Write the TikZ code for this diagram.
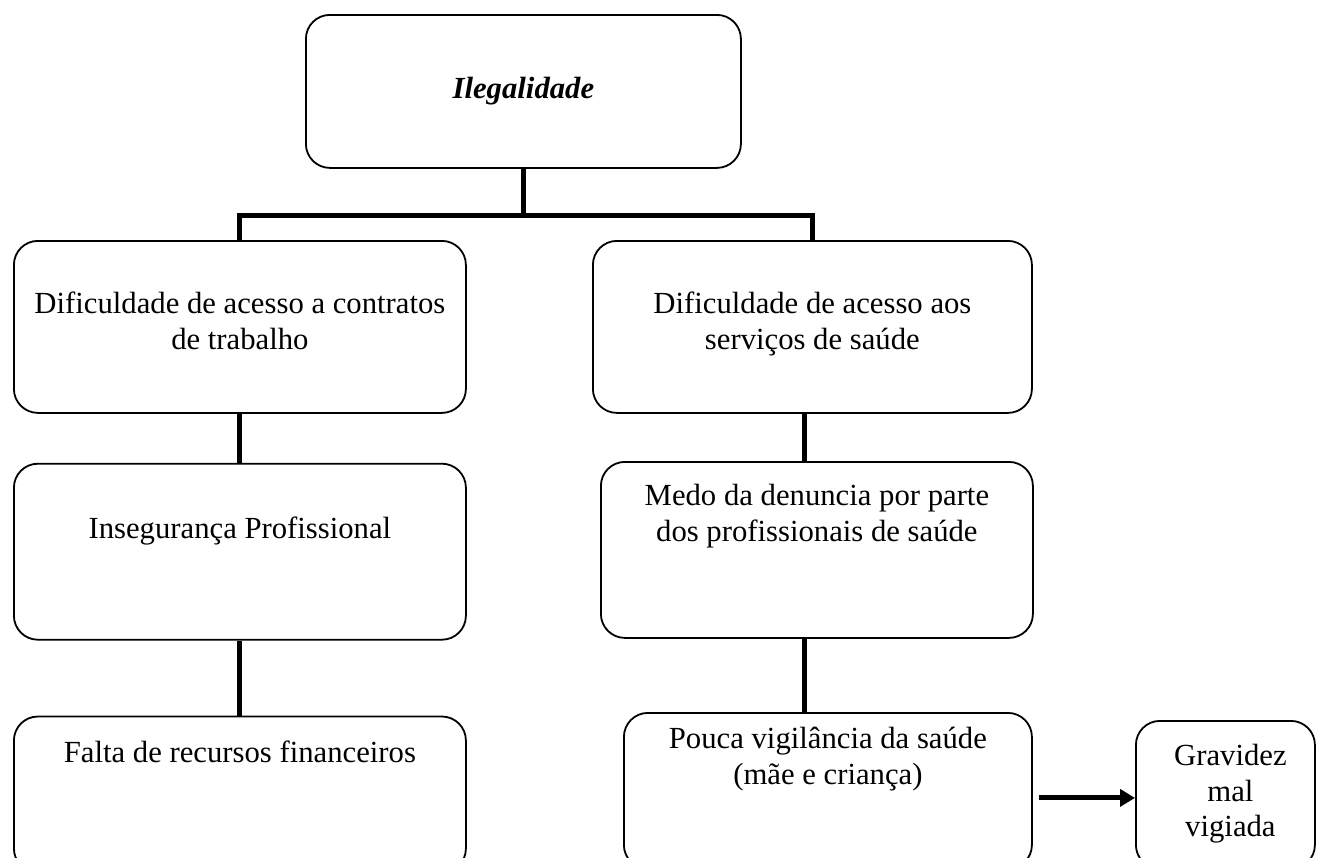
\documentclass[tikz,border=0pt]{standalone}
\usepackage{fontspec}
\setmainfont{Liberation Serif}
\usetikzlibrary{positioning}
\usetikzlibrary{arrows.meta}
\tikzset{
    caixa/.style = {rectangle, rounded corners=24pt, line width=1.8pt, draw=black, fill=white, inner sep=0pt, anchor=north west},
    rotulo/.style = {anchor=north, align=center, inner sep=0pt, font=\fontsize{30.7}{35.5}\selectfont},
    ligacao/.style = {-, line width=5pt, black}, % tree lines
    seta/.style = {-{Triangle[length=15pt,width=17pt]}, line width=5pt, black}
}
\begin{document}
\begin{tikzpicture}[x=1pt, y=-1pt, font=\fontsize{30.7}{35.5}\selectfont]
  \useasboundingbox (0,0) rectangle (1321,857);
  % top
  \node[caixa, minimum width=435pt, minimum height=153pt, font=\fontsize{30.7}{35.5}\selectfont\bfseries\itshape] (ileg) at (305,14) {Ilegalidade};
  % left column
  \node[caixa, minimum width=452pt, minimum height=172pt,
        label={[rotulo, yshift=-52pt]north:{Dificuldade de acesso a contratos\\de trabalho}}] (contratos) at (13,240) {};
  \node[caixa, minimum width=452pt, minimum height=176pt, anchor=north, below=49pt of contratos,
        label={[rotulo, yshift=-54pt]north:{Insegurança Profissional}}] (inseg) {};
  \node[caixa, minimum width=452pt, minimum height=156pt, anchor=north, below=75pt of inseg,
        label={[rotulo, yshift=-25pt]north:{Falta de recursos financeiros}}] (falta) {};
  % right column
  \node[caixa, minimum width=439pt, minimum height=172pt,
        label={[rotulo, yshift=-52pt]north:{Dificuldade de acesso aos\\serviços de saúde}}] (servicos) at (592,240) {};
  \node[caixa, minimum width=432pt, minimum height=176pt,
        label={[rotulo, yshift=-23pt]north:{Medo da denuncia por parte\\dos profissionais de saúde}}] (medo) at (600,461) {};
  \node[caixa, minimum width=408pt, minimum height=156pt,
        label={[rotulo, yshift=-15pt]north:{Pouca vigilância da saúde\\(mãe e criança)}}] (pouca) at (623,712) {};
  \node[caixa, minimum width=179pt, minimum height=148pt,
        label={[rotulo, yshift=-24pt, xshift=5pt]north:{Gravidez\\mal\\vigiada}}] (gravidez) at (1135,720) {};

  \coordinate (barra) at (0,215);
  \draw[ligacao] (ileg.south) -- (ileg.south |- barra);
  \draw[ligacao] (contratos.north) -- (contratos.north |- barra) -- (servicos.north |- barra) -- (servicos.north);
  \draw[ligacao] (contratos.south) -- (inseg.north);
  \draw[ligacao] (inseg.south) -- (falta.north);
  \draw[ligacao] ([xshift=-7.5pt]servicos.south) -- ([xshift=-7.5pt]servicos.south |- medo.north);
  \draw[ligacao] ([xshift=-12pt]medo.south) -- ([xshift=-12pt]medo.south |- pouca.north);
  \draw[seta] ([xshift=6pt,yshift=-7pt]pouca.east) -- ([yshift=-7pt]pouca.east -| gravidez.west);
\end{tikzpicture}
\end{document}
